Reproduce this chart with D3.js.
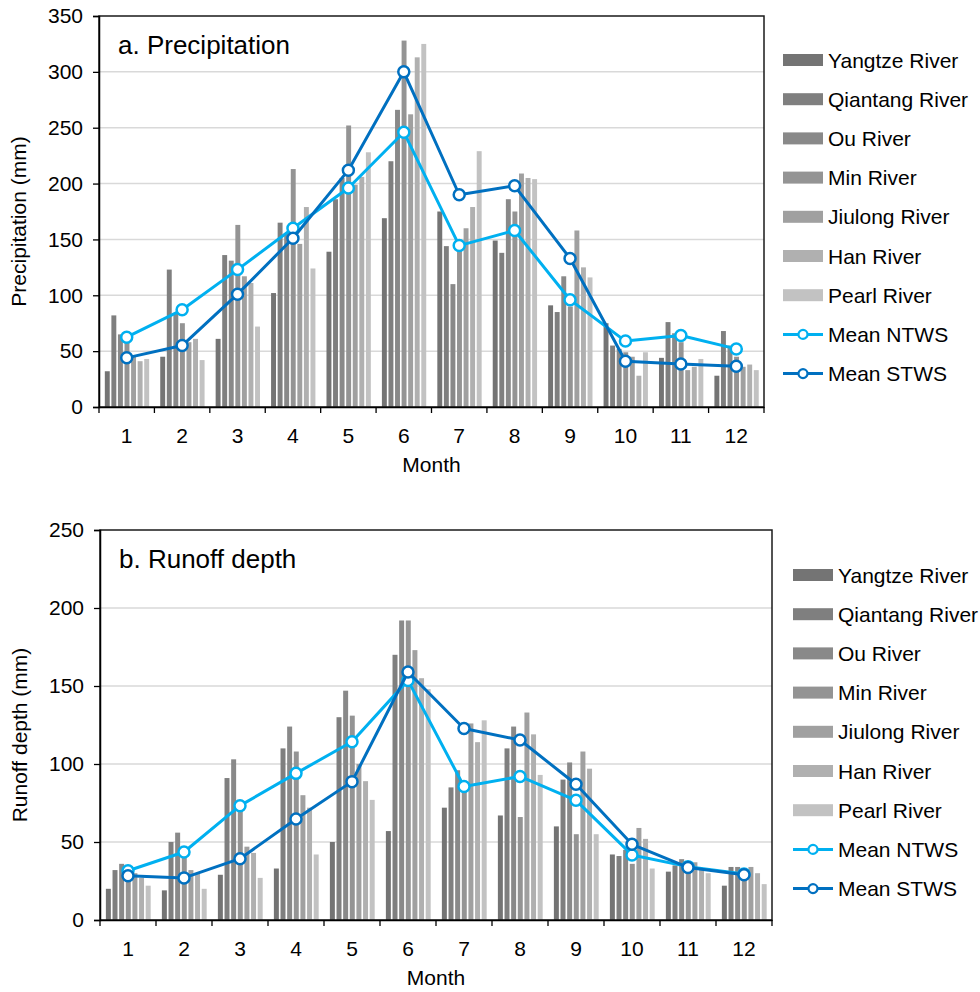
<!DOCTYPE html>
<html lang="en">
<head>
<meta charset="utf-8">
<title>Precipitation and runoff depth</title>
<script src="https://cdnjs.cloudflare.com/ajax/libs/d3/7.8.5/d3.min.js"></script>
<style>
  body { margin: 0; background: #fff; }
  svg text { font-family: Arial, "Liberation Sans", sans-serif; fill: #000; }
</style>
</head>
<body>
<svg id="chart" width="980" height="992"></svg>
<script>
// months and series names
var months = [1, 2, 3, 4, 5, 6, 7, 8, 9, 10, 11, 12];
var rivers = ["Yangtze River", "Qiantang River", "Ou River", "Min River", "Jiulong River", "Han River", "Pearl River"];
var riverColors = ["#747474", "#7f7f7f", "#898989", "#949494", "#a0a0a0", "#b0b0b0", "#c2c2c2"];

// a. precipitation (mm)
var precYangtze  = [32, 45, 61, 102, 139, 169, 175, 149, 91, 75, 44, 28];
var precQiantang = [82, 123, 136, 165, 186, 220, 144, 138, 85, 55, 76, 68];
var precOu       = [65, 84, 131, 155, 205, 266, 110, 186, 117, 52, 66, 55];
var precMin      = [60, 75, 163, 213, 252, 328, 148, 175, 90, 49, 58, 45];
var precJiulong  = [45, 58, 117, 146, 199, 262, 160, 209, 158, 45, 33, 36];
var precHan      = [41, 61, 111, 179, 206, 313, 179, 205, 125, 28, 36, 38];
var precPearl    = [43, 42, 72, 124, 228, 325, 229, 204, 116, 49, 43, 33];
var precNTWS     = [62.5, 87, 123, 160, 196, 246, 144.5, 158, 96, 59, 64, 52];
var precSTWS     = [44, 55, 101, 151, 212, 300, 190, 198, 133, 41, 38.5, 36.5];
var precTicks    = [0, 50, 100, 150, 200, 250, 300, 350];

// b. runoff depth (mm)
var runYangtze  = [20, 19, 29, 33, 50, 57, 72, 67, 60, 42, 31, 22];
var runQiantang = [32, 50, 91, 110, 130, 170, 85, 110, 90, 41, 35, 34];
var runOu       = [36, 56, 103, 124, 147, 192, 96, 124, 101, 45, 39, 34];
var runMin      = [35, 45, 75, 108, 131, 192, 88, 66, 55, 36, 37, 33];
var runJiulong  = [30, 32, 47, 80, 100, 173, 126, 133, 108, 59, 37, 34];
var runHan      = [27, 30, 43, 72, 89, 155, 114, 119, 97, 52, 33, 30];
var runPearl    = [22, 20, 27, 42, 77, 148, 128, 93, 55, 33, 30, 23];
var runNTWS     = [31.6, 43.6, 73.3, 94, 114.3, 153.6, 85.6, 92, 76.7, 41.7, 34.2, 29.5];
var runSTWS     = [28.4, 27, 39.3, 64.7, 88.7, 159, 122.8, 115.4, 87, 48.5, 33.7, 29];
var runTicks    = [0, 50, 100, 150, 200, 250];

var meanNames = ["Mean NTWS", "Mean STWS"];
var meanColors = ["#00b0f0", "#0070c0"];

var svg = d3.select("#chart");
var FONT = "Arial, 'Liberation Sans', sans-serif";

function drawPanel(p) {
  var g = svg.append("g");
  var x = d3.scaleBand().domain(months).range([p.left, p.right]);
  var bw = x.bandwidth();
  var xi = d3.scaleBand().domain(rivers).range([bw * 0.105, bw * 0.905]).paddingInner(0.25);
  var y = d3.scaleLinear().domain([0, p.ymax]).range([p.bottom, p.top]);

  // gridlines
  g.selectAll(".grid").data(p.ticks.slice(1, -1)).enter().append("line")
    .attr("x1", p.left).attr("x2", p.right)
    .attr("y1", function(d) { return y(d); }).attr("y2", function(d) { return y(d); })
    .attr("stroke", "#d9d9d9").attr("stroke-width", 1.5);

  // bars
  p.series.forEach(function(vals, i) {
    g.selectAll(".b" + i).data(vals).enter().append("rect")
      .attr("x", function(d, j) { return x(months[j]) + xi(rivers[i]); })
      .attr("y", function(d) { return y(d); })
      .attr("width", xi.bandwidth())
      .attr("height", function(d) { return y(0) - y(d); })
      .attr("fill", riverColors[i]);
  });

  // frame
  g.append("rect").attr("x", p.left).attr("y", p.top)
    .attr("width", p.right - p.left).attr("height", p.bottom - p.top)
    .attr("fill", "none").attr("stroke", "#1a1a1a").attr("stroke-width", 1.5);

  // axes
  var yAxis = d3.axisLeft(y).tickValues(p.ticks).tickSize(6).tickPadding(10).tickFormat(d3.format("d"));
  g.append("g").attr("transform", "translate(" + p.left + ",0)").call(yAxis)
    .call(function(s) {
      s.select(".domain").attr("stroke", "#000").attr("stroke-width", 1.5);
      s.selectAll(".tick line").attr("stroke", "#000").attr("stroke-width", 1.3);
      s.selectAll("text").attr("font-size", 21).attr("font-family", FONT);
    });

  var xAxis = d3.axisBottom(x).tickSize(0).tickPadding(21);
  g.append("g").attr("transform", "translate(0," + p.bottom + ")").call(xAxis)
    .call(function(s) {
      s.select(".domain").attr("stroke", "#000").attr("stroke-width", 1.5);
      s.selectAll("text").attr("font-size", 21).attr("font-family", FONT);
    });
  // category boundary ticks
  g.selectAll(".xt").data(months.concat([13])).enter().append("line")
    .attr("x1", function(d) { return d > 12 ? p.right : x(d); })
    .attr("x2", function(d) { return d > 12 ? p.right : x(d); })
    .attr("y1", p.bottom).attr("y2", p.bottom + 6)
    .attr("stroke", "#000").attr("stroke-width", 1.3);

  // mean lines, STWS on top
  [p.ntws, p.stws].forEach(function(vals, k) {
    var line = d3.line()
      .x(function(d, j) { return x(months[j]) + bw / 2; })
      .y(function(d) { return y(d); });
    g.append("path").datum(vals).attr("d", line)
      .attr("fill", "none").attr("stroke", meanColors[k]).attr("stroke-width", 3)
      .attr("stroke-linejoin", "round");
    g.selectAll(".m" + k).data(vals).enter().append("circle")
      .attr("cx", function(d, j) { return x(months[j]) + bw / 2; })
      .attr("cy", function(d) { return y(d); })
      .attr("r", 5.5).attr("fill", "#fff")
      .attr("stroke", meanColors[k]).attr("stroke-width", 2.5);
  });

  // panel title
  g.append("text").attr("x", p.left + 19).attr("y", p.top + 38)
    .attr("font-size", 26).text(p.title);

  // axis titles
  g.append("text").attr("x", (p.left + p.right) / 2).attr("y", p.bottom + 65)
    .attr("text-anchor", "middle").attr("font-size", 21).text("Month");
  g.append("text")
    .attr("transform", "translate(" + (p.left - 73) + "," + ((p.top + p.bottom) / 2 + 10) + ") rotate(-90)")
    .attr("text-anchor", "middle").attr("font-size", 21).text(p.ylabel);

  // legend
  var lg = g.append("g").attr("transform", "translate(" + p.legX + "," + p.legY + ")");
  rivers.forEach(function(r, i) {
    var row = lg.append("g").attr("transform", "translate(0," + (i * p.legStep) + ")");
    row.append("rect").attr("x", 0).attr("y", -6).attr("width", 40).attr("height", 12).attr("fill", riverColors[i]);
    row.append("text").attr("x", 45).attr("y", 7.5).attr("font-size", 21).text(r);
  });
  meanNames.forEach(function(m, k) {
    var row = lg.append("g").attr("transform", "translate(0," + ((rivers.length + k) * p.legStep) + ")");
    row.append("line").attr("x1", 0).attr("x2", 40).attr("y1", 0).attr("y2", 0)
      .attr("stroke", meanColors[k]).attr("stroke-width", 3);
    row.append("circle").attr("cx", 20).attr("cy", 0).attr("r", 4.5).attr("fill", "#fff")
      .attr("stroke", meanColors[k]).attr("stroke-width", 2.2);
    row.append("text").attr("x", 45).attr("y", 7.5).attr("font-size", 21).text(m);
  });
}

drawPanel({
  left: 99, right: 764, top: 16, bottom: 407, ymax: 350, ticks: precTicks,
  series: [precYangtze, precQiantang, precOu, precMin, precJiulong, precHan, precPearl],
  ntws: precNTWS, stws: precSTWS,
  title: "a. Precipitation", ylabel: "Precipitation (mm)",
  legX: 783, legY: 60, legStep: 39.2
});

drawPanel({
  left: 100, right: 772, top: 530, bottom: 920, ymax: 250, ticks: runTicks,
  series: [runYangtze, runQiantang, runOu, runMin, runJiulong, runHan, runPearl],
  ntws: runNTWS, stws: runSTWS,
  title: "b. Runoff depth", ylabel: "Runoff depth (mm)",
  legX: 793, legY: 575, legStep: 39.2
});
</script>
</body>
</html>
